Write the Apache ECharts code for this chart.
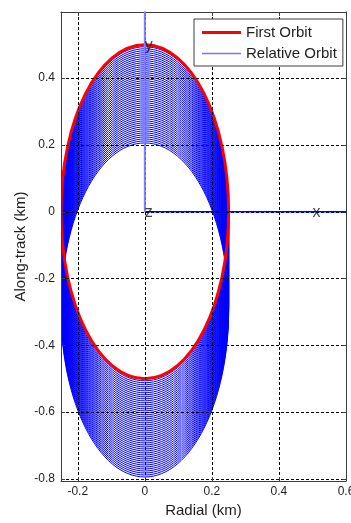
<!DOCTYPE html>
<html>
<head>
<meta charset="utf-8">
<script src="https://cdn.jsdelivr.net/npm/echarts@6/dist/echarts.min.js"></script>
<style>
  html, body { margin: 0; padding: 0; background: #ffffff; }
  #chart { width: 351px; height: 523px; }
</style>
</head>
<body>
<div id="chart"></div>
<script>
// Axis extents and tick positions (km)
const radialRange = [-0.25, 0.6];
const alongRange = [-0.806, 0.598];
const radialTicks = [-0.2, 0, 0.2, 0.4, 0.6];
const alongTicks = [-0.8, -0.6, -0.4, -0.2, 0, 0.2, 0.4];

// Relative ellipse: centre (radial, along-track) and semi-axes (radial, along-track)
const orbitCentre = [0, 0];
const orbitSemiAxes = [0.25, 0.5];

// Secular along-track drift of the relative orbit
const revolutions = 50;
const alongDriftPerRev = -0.006;

// Local frame axes drawn from the origin, with their names
const frameAxisRadial = [[0, 0], [0.6, 0]];
const frameAxisAlong = [[0, 0], [0, 0.6]];
const frameAxisNames = [[0.5, 0, 'x'], [0, 0.5, 'y'], [0, 0, 'z']];

const FONT = 'Liberation Sans, Arial, Helvetica, sans-serif';
const TEXT = '#1e1e1e';
const FRAME = '#3c3c3c';

// One record per revolution: [centre radial, centre along-track, semi radial, semi along-track]
const firstOrbit = [[orbitCentre[0], orbitCentre[1], orbitSemiAxes[0], orbitSemiAxes[1]]];
const relativeOrbit = [];
for (let k = 0; k < revolutions; k++) {
  relativeOrbit.push([orbitCentre[0], orbitCentre[1] + alongDriftPerRev * k, orbitSemiAxes[0], orbitSemiAxes[1]]);
}

// Draws each revolution as an ellipse through the cartesian scales
function ellipseRenderer(color, width) {
  return function (params, api) {
    const c = api.coord([api.value(0), api.value(1)]);
    const s = api.size([api.value(2), api.value(3)]);
    return {
      type: 'ellipse',
      shape: { cx: c[0], cy: c[1], rx: s[0], ry: s[1] },
      style: { stroke: color, fill: null, lineWidth: width }
    };
  };
}

const tickStyle = { inside: true, length: 4, lineStyle: { color: FRAME, width: 1 } };
const gridLine = { show: true, lineStyle: { color: '#000000', width: 1, type: [3, 2] } };

function frameAxis(extra) {
  return Object.assign({
    type: 'value',
    z: 10,
    nameMoveOverlap: false,
    axisLine: { show: true, onZero: false, lineStyle: { color: FRAME, width: 1 } },
    splitLine: { show: false }
  }, extra);
}

const chart = echarts.init(document.getElementById('chart'), null, { renderer: 'canvas' });

chart.setOption({
  animation: false,
  backgroundColor: '#ffffff',
  grid: { left: 61, top: 12, width: 285, height: 469, containLabel: false, outerBoundsMode: 'none' },
  legend: {
    orient: 'vertical',
    left: 194,
    top: 19,
    z: 20,
    padding: [6, 6, 5, 8],
    itemGap: 6,
    itemWidth: 39,
    itemHeight: 14,
    backgroundColor: '#ffffff',
    borderColor: FRAME,
    borderWidth: 1,
    borderRadius: 0,
    textStyle: { fontFamily: FONT, fontSize: 15, color: TEXT },
    data: [
      { name: 'First Orbit', icon: 'path://M0,0M0,14M0,5.4H39V8.6H0Z', itemStyle: { color: '#ff0000' } },
      { name: 'Relative Orbit', icon: 'path://M0,0M0,14M0,6.3H39V7.7H0Z', itemStyle: { color: '#7474ff' } }
    ]
  },
  xAxis: [
    frameAxis({
      min: radialRange[0], max: radialRange[1], position: 'bottom',
      name: 'Radial (km)', nameLocation: 'middle', nameGap: 22,
      nameTextStyle: { fontFamily: FONT, fontSize: 15, color: TEXT },
      axisTick: Object.assign({ customValues: radialTicks }, tickStyle),
      axisLabel: { customValues: radialTicks, margin: 5, fontFamily: FONT, fontSize: 12, color: TEXT },
      splitLine: Object.assign({ customValues: radialTicks }, gridLine)
    }),
    frameAxis({
      min: radialRange[0], max: radialRange[1], position: 'top',
      axisTick: Object.assign({ customValues: radialTicks }, tickStyle),
      axisLabel: { show: false }
    })
  ],
  yAxis: [
    frameAxis({
      min: alongRange[0], max: alongRange[1], position: 'left',
      name: 'Along-track (km)', nameLocation: 'middle', nameGap: 33, nameRotate: 90,
      nameTextStyle: { fontFamily: FONT, fontSize: 15, color: TEXT },
      axisTick: Object.assign({ customValues: alongTicks }, tickStyle),
      axisLabel: { customValues: alongTicks, margin: 6, fontFamily: FONT, fontSize: 12, color: TEXT },
      splitLine: Object.assign({ customValues: alongTicks }, gridLine)
    }),
    frameAxis({
      min: alongRange[0], max: alongRange[1], position: 'right',
      axisTick: Object.assign({ customValues: alongTicks }, tickStyle),
      axisLabel: { show: false }
    })
  ],
  series: [
    {
      name: 'Relative Orbit',
      type: 'custom',
      data: relativeOrbit,
      encode: { x: 0, y: 1 },
      renderItem: ellipseRenderer('#0000ff', 1),
      clip: true,
      silent: true,
      z: 2,
      itemStyle: { color: '#0000ff' }
    },
    {
      name: 'First Orbit',
      type: 'custom',
      data: firstOrbit,
      encode: { x: 0, y: 1 },
      renderItem: ellipseRenderer('#ff0000', 3),
      clip: true,
      silent: true,
      z: 3,
      itemStyle: { color: '#ff0000' }
    },
    {
      name: 'frame-x',
      type: 'line',
      data: frameAxisRadial,
      symbol: 'none',
      z: 12,
      silent: true,
      lineStyle: { color: '#0000ff', width: 1.5 }
    },
    {
      name: 'frame-y',
      type: 'line',
      data: frameAxisAlong,
      symbol: 'none',
      z: 12,
      silent: true,
      lineStyle: { color: '#8080ff', width: 2 }
    },
    {
      name: 'frame-names',
      type: 'scatter',
      data: frameAxisNames,
      symbolSize: 0,
      z: 13,
      silent: true,
      label: {
        show: true,
        position: 'right',
        distance: 0,
        offset: [0, 1],
        formatter: p => p.data[2],
        fontFamily: FONT,
        fontSize: 16,
        color: '#111111'
      }
    }
  ]
});
</script>
</body>
</html>
